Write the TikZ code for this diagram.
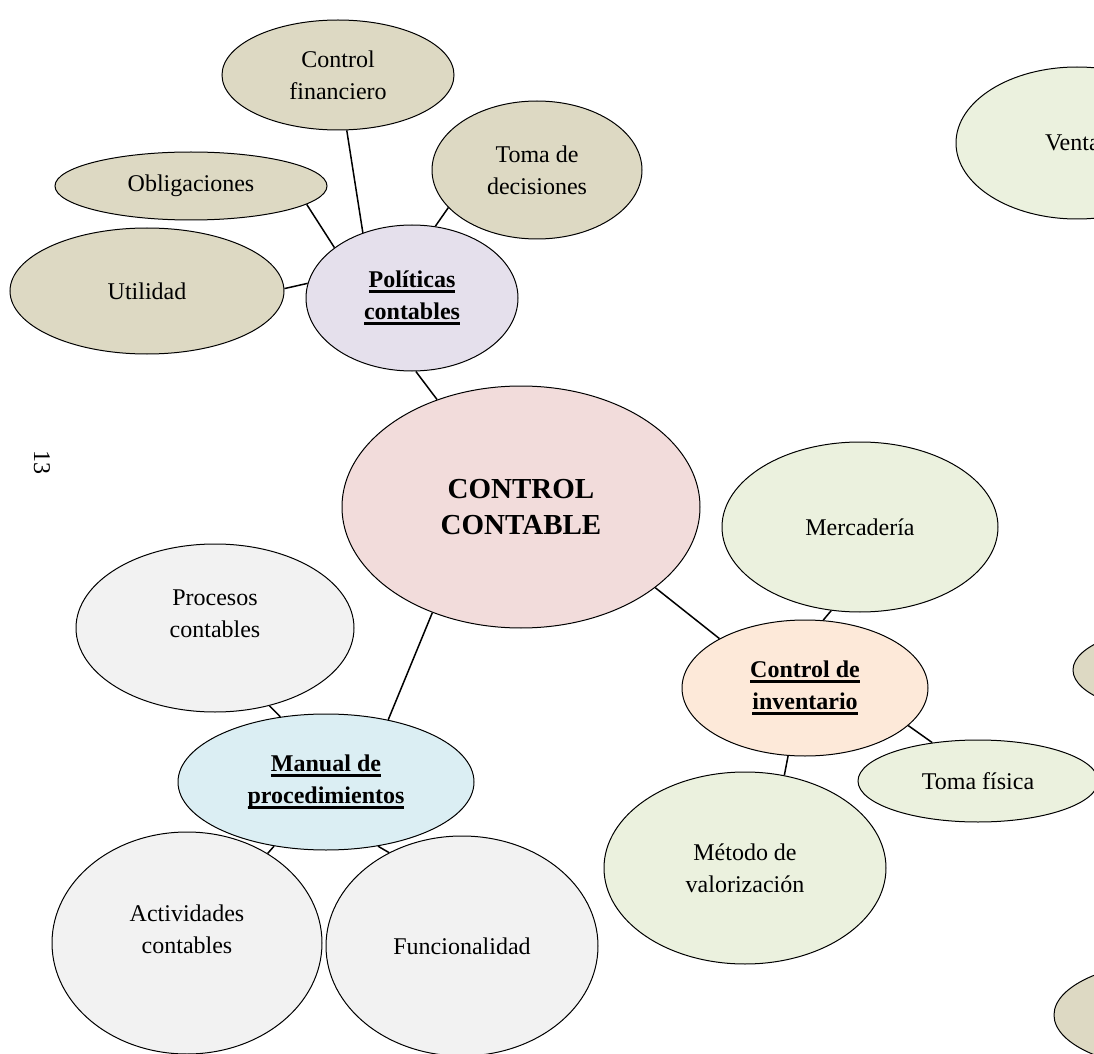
\documentclass[tikz,border=0pt]{standalone}
\usepackage{fontspec}
\setmainfont{Liberation Serif}
\usetikzlibrary{shapes.geometric}

\definecolor{tanfill}{HTML}{DDD9C3}
\definecolor{lilacfill}{HTML}{E5E0EC}
\definecolor{pinkfill}{HTML}{F2DCDB}
\definecolor{greenfill}{HTML}{EBF1DE}
\definecolor{peachfill}{HTML}{FDE9D9}
\definecolor{bluefill}{HTML}{DBEEF3}
\definecolor{greyfill}{HTML}{F2F2F2}

% bold heading with a thick underline
\newcommand{\hdline}[1]{\setbox0\hbox{#1}\leavevmode\rlap{\rule[-2.6pt]{\wd0}{1.3pt}}\box0}

\begin{document}
\begin{tikzpicture}[x=0.5pt,y=-0.5pt,
    bubble/.style={ellipse, draw, line width=0.5pt, inner sep=0pt, align=center,
                   font=\fontsize{12}{16}\selectfont},
    link/.style={line width=0.75pt},
    txt/.style={align=center, font=\fontsize{12}{16}\selectfont}]

  \clip (0,0) rectangle (1094,1054);
  \fill[white] (0,0) rectangle (1094,1054);

  \node[txt, rotate=-90] (pgnum) at (42,462) {13};

  % politicas contables
  \node[bubble, fill=tanfill, minimum width=116pt, minimum height=55pt] (finan) at (338,75) {Control\\financiero};
  \node[bubble, fill=tanfill, minimum width=105pt, minimum height=69pt] (decis) at (537,170) {Toma de\\decisiones};
  \node[bubble, fill=tanfill, minimum width=136pt, minimum height=34pt] (oblig) at (191,186) {Obligaciones};
  \node[bubble, fill=tanfill, minimum width=137pt, minimum height=63pt] (util) at (147,291) {Utilidad};
  \node[bubble, fill=lilacfill, minimum width=106pt, minimum height=73pt, font=\fontsize{12}{16}\selectfont\bfseries]
    (polit) at (412,298) {\hdline{Políticas}\\\hdline{contables}};

  % centre
  \node[bubble, fill=pinkfill, minimum width=179pt, minimum height=121pt, font=\fontsize{14.5}{18}\selectfont\bfseries]
    (ctrl) at (521,507) {CONTROL\\CONTABLE};

  % control de inventario
  \node[bubble, fill=greenfill, minimum width=121pt, minimum height=76pt] (ventas) at (1077,143) {Ventas};
  \node[bubble, fill=greenfill, minimum width=138pt, minimum height=85pt] (merca) at (860,527) {Mercadería};
  \node[bubble, fill=peachfill, minimum width=123pt, minimum height=68pt, font=\fontsize{12}{16}\selectfont\bfseries]
    (invent) at (805,688) {\hdline{Control de}\\\hdline{inventario}};
  \node[bubble, fill=greenfill, minimum width=120pt, minimum height=41pt] (fisica) at (978,781) {Toma física};
  \node[bubble, fill=greenfill, minimum width=141pt, minimum height=96pt] (metodo) at (745,868) {Método de\\valorización};
  \node[bubble, fill=tanfill, minimum width=120pt, minimum height=45pt] (tanA) at (1193,670) {};
  \node[bubble, fill=tanfill, minimum width=130pt, minimum height=55pt] (tanB) at (1184,1015) {};

  % manual de procedimientos
  \node[bubble, fill=greyfill, minimum width=139pt, minimum height=84pt] (proces) at (215,628) {};
  \node[txt] (procesTxt) at (215,614) {Procesos\\contables};
  \node[bubble, fill=bluefill, minimum width=148pt, minimum height=68pt, font=\fontsize{12}{16}\selectfont\bfseries]
    (manual) at (326,782) {\hdline{Manual de}\\\hdline{procedimientos}};
  \node[bubble, fill=greyfill, minimum width=135pt, minimum height=111pt] (activ) at (187,943) {};
  \node[txt] (activTxt) at (187,929) {Actividades\\contables};
  \node[bubble, fill=greyfill, minimum width=136pt, minimum height=110pt] (funcion) at (462,946) {Funcionalidad};

  \draw[link] (finan.-81.7) -- (polit.127);
  \draw[link] (decis.203) -- (polit.72);
  \draw[link] (oblig.-9.5) -- (polit.147);
  \draw[link] (util.1.7) -- (polit.172);
  \draw[link] (polit.-87.6) -- (ctrl.128);

  \draw[link] (ctrl.-31) -- (invent.150.5);
  \draw[link] (merca.251.6) -- (invent.75.8);
  \draw[link] (invent.-20.7) -- (fisica.140);
  \draw[link] (invent.256.8) -- (metodo.67);

  \draw[link] (ctrl.230) -- (manual.45.5);
  \draw[link] (proces.-55) -- (manual.125.9);
  \draw[link] (manual.-51) -- (funcion.128);
  \draw[link] (manual.231.6) -- (activ.48.7);
\end{tikzpicture}
\end{document}
